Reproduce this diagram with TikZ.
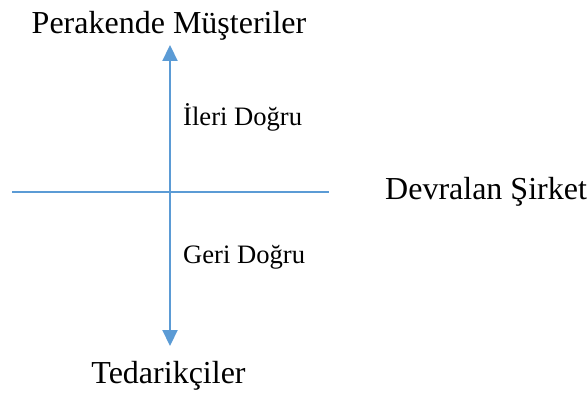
\documentclass[tikz,border=0pt]{standalone}
\usepackage{fontspec}
\setmainfont{Liberation Serif}
\usetikzlibrary{arrows.meta}
\definecolor{axisblue}{RGB}{91,155,213}
\tikzset{
  axis/.style={draw=axisblue, line width=2.2pt},
  axisarrow/.style={axis, -{Triangle[width=15pt,length=16pt]}},
  bigtext/.style={inner sep=0pt, font=\fontsize{32}{38}\selectfont},
  smalltext/.style={inner sep=0pt, font=\fontsize{26.6}{32}\selectfont}
}
\begin{document}
\begin{tikzpicture}[x=1pt,y=-1pt]
\useasboundingbox (0,0) rectangle (588,395);
\coordinate (c) at (170,192);
\coordinate (top) at (170,45);
\coordinate (bot) at (170,346);
\coordinate (left) at (12,192);
\coordinate (right) at (329,192);
\draw[axis] (left) -- (right);
\draw[axisarrow] (c) -- (top);
\draw[axisarrow] (c) -- (bot);
\node[bigtext, anchor=base] (perakende) at (169,34) {Perakende Müşteriler};
\node[smalltext, anchor=base west] (ileri) at (183,126) {İleri Doğru};
\node[smalltext, anchor=base west] (geri) at (183,263) {Geri Doğru};
\node[bigtext, anchor=base west] (devralan) at (385,200) {Devralan Şirket};
\node[bigtext, anchor=base] (tedarik) at (168.5,383) {Tedarikçiler};
\end{tikzpicture}
\end{document}
